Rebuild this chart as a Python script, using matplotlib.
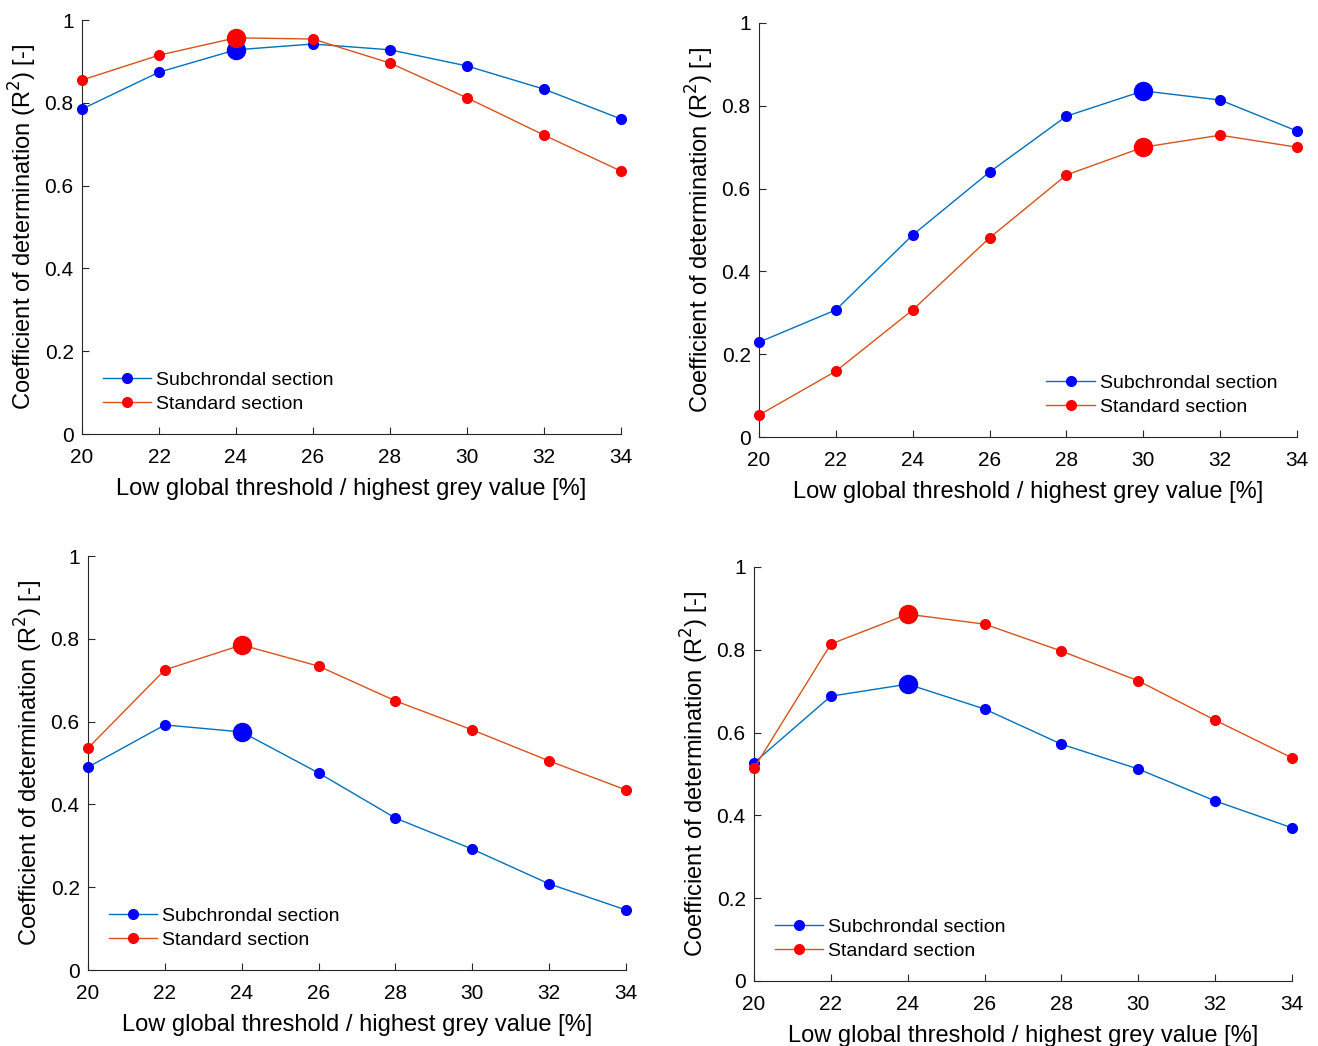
import matplotlib
matplotlib.use("Agg")
import matplotlib.pyplot as plt

plt.rcParams['font.family'] = ['Liberation Sans', 'DejaVu Sans']

thresholds = [20, 22, 24, 26, 28, 30, 32, 34]
xticks = [20, 22, 24, 26, 28, 30, 32, 34]
yticks = [0, 0.2, 0.4, 0.6, 0.8, 1]
ytick_labels = ["0", "0.2", "0.4", "0.6", "0.8", "1"]

sub_a = [0.785, 0.874, 0.928, 0.942, 0.928, 0.889, 0.833, 0.761]
std_a = [0.855, 0.915, 0.957, 0.954, 0.896, 0.812, 0.722, 0.635]
sub_b = [0.229, 0.307, 0.488, 0.640, 0.775, 0.836, 0.814, 0.739]
std_b = [0.053, 0.159, 0.307, 0.481, 0.633, 0.700, 0.729, 0.700]
sub_c = [0.490, 0.592, 0.575, 0.476, 0.367, 0.292, 0.208, 0.145]
std_c = [0.536, 0.725, 0.785, 0.734, 0.650, 0.580, 0.505, 0.435]
sub_d = [0.527, 0.688, 0.717, 0.657, 0.572, 0.512, 0.435, 0.370]
std_d = [0.514, 0.814, 0.886, 0.862, 0.797, 0.725, 0.630, 0.539]
best_x = [24, 30, 24, 24]

series_labels = ["Subchrondal section", "Standard section"]
xlabel = "Low global threshold / highest grey value [%]"
ylabel = "Coefficient of determination (R$^2$) [-]"

W, H = 1318, 1046
# pixel boxes: (x0, x1, y_bottom, y_top)
boxes = [(82, 621, 434, 20), (759, 1297, 437, 23), (88, 626, 970, 556), (754, 1292, 981, 567)]
data = [(sub_a, std_a), (sub_b, std_b), (sub_c, std_c), (sub_d, std_d)]
# legend anchors (loc, bbox in axes coords)
legend_pos = [('lower left', (0.024, 0.032)), ('lower right', (0.978, 0.032)),
              ('lower left', (0.024, 0.032)), ('lower left', (0.024, 0.032))]

line_cols = ["#0072BD", "#D95319"]
mark_cols = ["#0000FF", "#FF0000"]

fig = plt.figure(figsize=(W / 100, H / 100), dpi=100)
for (x0, x1, yb, yt), (s1, s2), bx, (lloc, lanc) in zip(boxes, data, best_x, legend_pos):
    ax = fig.add_axes([x0 / W, 1 - yb / H, (x1 - x0) / W, (yb - yt) / H])
    for vals, lc, mc, lab in zip((s1, s2), line_cols, mark_cols, series_labels):
        ax.plot(thresholds, vals, '-', color=lc, lw=1.0, marker='o', ms=7,
                mfc=mc, mec=mc, label=lab, clip_on=False, zorder=3)
        i = thresholds.index(bx)
        ax.plot([thresholds[i]], [vals[i]], 'o', ms=13, mfc=mc, mec=mc,
                clip_on=False, zorder=4)
    ax.set_xlim(20, 34)
    ax.set_ylim(0, 1)
    ax.set_xticks(xticks)
    ax.set_yticks(yticks)
    ax.set_yticklabels(ytick_labels)
    for sp in ['top', 'right']:
        ax.spines[sp].set_visible(False)
    for sp in ['left', 'bottom']:
        ax.spines[sp].set_color('#262626')
        ax.spines[sp].set_linewidth(0.8)
    ax.tick_params(direction='in', length=5, width=0.8, labelsize=15,
                   colors='#262626', labelcolor='black')
    ax.tick_params(axis='x', pad=10)
    ax.tick_params(axis='y', pad=6)
    ax.set_xlabel(xlabel, fontsize=17, labelpad=8)
    ax.set_ylabel(ylabel, fontsize=17, labelpad=4)
    ax.legend(loc=lloc, bbox_to_anchor=lanc, frameon=False,
              fontsize=14, handlelength=2.5, handletextpad=0.25,
              labelspacing=0.33, borderaxespad=0)

fig.savefig("out.png", dpi=100, facecolor='white')
